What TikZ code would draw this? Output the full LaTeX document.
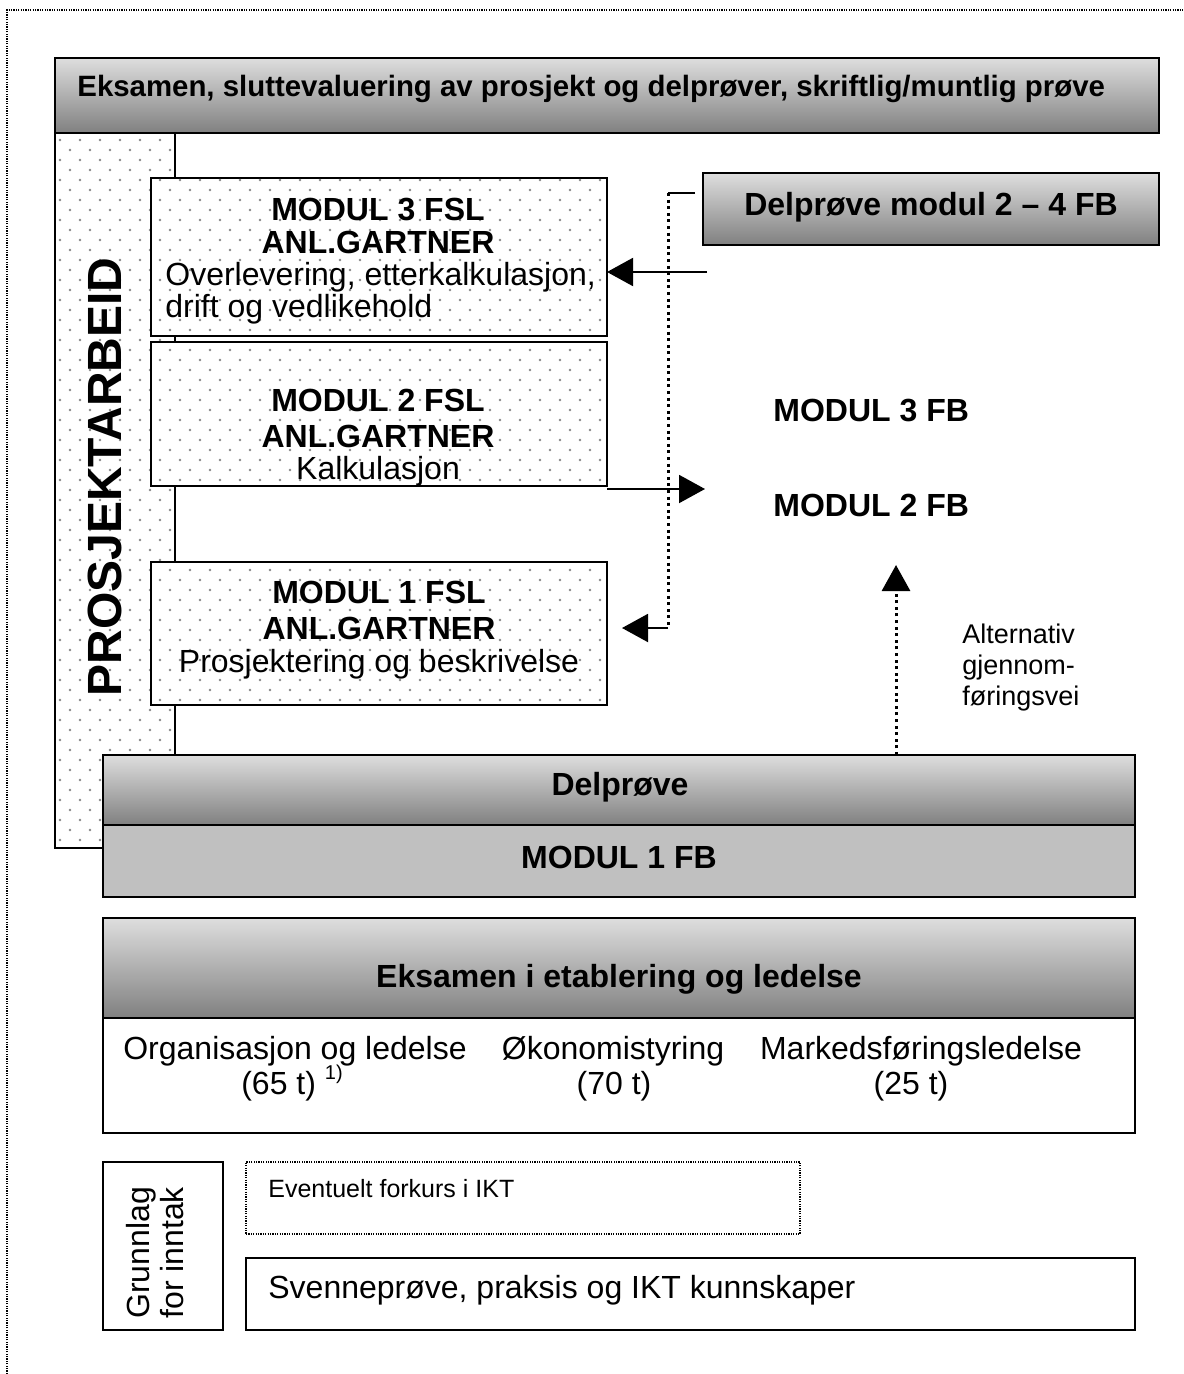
\documentclass[tikz,border=0pt]{standalone}
\usepackage{fontspec}
\setmainfont{Liberation Sans}
\usetikzlibrary{arrows.meta,fit}
\definecolor{gtop}{RGB}{222,222,222}
\definecolor{gbot}{RGB}{128,128,128}
\definecolor{mgray}{RGB}{192,192,192}
\definecolor{dotc}{RGB}{135,135,135}
\newcommand\mydotgrid[6]{%
  \begin{scope}
    \clip (#1,#2) rectangle (#3,#4);
    \foreach \xx in {#5}{\foreach \yy in {#6}{%
      \fill[dotc] (\xx,\yy) circle (0.7pt);
      \fill[dotc] (\xx+10,\yy+10) circle (0.7pt);}}
  \end{scope}}
\begin{document}
\begin{tikzpicture}[x=0.5pt,y=-0.5pt,
  box/.style={draw, line width=1pt, inner sep=0pt, outer sep=0pt},
  grad/.style={box, top color=gtop, bottom color=gbot},
  tsixteen/.style={font=\fontsize{16}{19}\selectfont, inner sep=0pt},
  bsixteen/.style={font=\fontsize{16}{19}\selectfont\bfseries, inner sep=0pt},
  btitle/.style={font=\fontsize{14.7}{17}\selectfont\bfseries, inner sep=0pt},
  tsmall/.style={font=\fontsize{13.5}{16}\selectfont, inner sep=0pt},
  tsmaller/.style={font=\fontsize{12.5}{15}\selectfont, inner sep=0pt},
  arr/.style={line width=1pt, -{Triangle[length=13pt,width=14pt]}},
  dotline/.style={line width=1.5pt, dash pattern=on 1.5pt off 1.8pt},
  fine/.style={line width=0.9pt, dash pattern=on 0.6pt off 0.6pt}]
\useasboundingbox (0,0) rectangle (1183,1374);
\fill[white] (0,0) rectangle (1183,1374);
% outer frame
\draw[fine] (7,1374) -- (7,10) -- (1183,10);

% project column
\node[box, fill=white, fit={(55,133) (175,848)}] (pcol) {};
\mydotgrid{56}{134}{174}{847}{40,60,...,180}{120,140,...,860}
\node[rotate=90, font=\fontsize{24}{28}\selectfont\bfseries, inner sep=0pt] (ptxt) at (105,477) {PROSJEKTARBEID};

% title
\node[grad, fit={(55,58) (1159,133)}] (title) {};
\node[btitle, anchor=base west] (titletxt) at (77,97) {Eksamen, sluttevaluering av prosjekt og delprøver, skriftlig/muntlig prøve};

% modules
\node[box, fill=white, fit={(151,178) (607,336)}] (m3) {};
\mydotgrid{152}{179}{606}{335}{140,160,...,620}{160,180,...,340}
\node[box, fill=white, fit={(151,342) (607,486)}] (m2) {};
\mydotgrid{152}{343}{606}{485}{140,160,...,620}{340,360,...,500}
\node[box, fill=white, fit={(151,562) (607,705)}] (m1) {};
\mydotgrid{152}{563}{606}{704}{140,160,...,620}{560,580,...,720}

\node[bsixteen, anchor=base] (m3a) at (378,221) {MODUL 3 FSL};
\node[bsixteen, anchor=base] (m3b) at (378,254) {ANL.GARTNER};
\node[tsixteen, anchor=base west] (m3c) at (165,286) {Overlevering, etterkalkulasjon,};
\node[tsixteen, anchor=base west] (m3d) at (165,318) {drift og vedlikehold};

\node[bsixteen, anchor=base] (m2a) at (378,411) {MODUL 2 FSL};
\node[bsixteen, anchor=base] (m2b) at (378,447) {ANL.GARTNER};
\node[tsixteen, anchor=base] (m2c) at (378,479) {Kalkulasjon};

\node[bsixteen, anchor=base] (m1a) at (379,603) {MODUL 1 FSL};
\node[bsixteen, anchor=base] (m1b) at (379,639) {ANL.GARTNER};
\node[tsixteen, anchor=base] (m1c) at (379,672) {Prosjektering og beskrivelse};

% delprove modul 2-4
\node[grad, fit={(703,173) (1159,245)}] (dp) {};
\node[bsixteen, anchor=base] (dptxt) at (931,216) {Delprøve modul 2 – 4 FB};

\node[bsixteen, anchor=base west] (fb3) at (773,421) {MODUL 3 FB};
\node[bsixteen, anchor=base west] (fb2) at (773,516) {MODUL 2 FB};

\node[tsmall, anchor=base west] (alt1) at (962,643) {Alternativ};
\node[tsmall, anchor=base west] (alt2) at (962,674) {gjennom-};
\node[tsmall, anchor=base west] (alt3) at (962,705) {føringsvei};

% bottom module 1 block
\node[grad, fit={(103,755) (1135,825)}] (dlp) {};
\node[bsixteen, anchor=base] (dlptxt) at (620,795) {Delprøve};
\node[box, fill=mgray, fit={(103,825) (1135,897)}] (m1fb) {};
\node[bsixteen, anchor=base] (m1fbtxt) at (619,868) {MODUL 1 FB};

% connectors
\coordinate (dtick) at (695,193);
\coordinate (dtop) at (668,193);
\coordinate (dbot) at (668,628);
\coordinate (m1tip) at (622,628);
\draw[line width=1pt] (dtick) -- (dtop);
\draw[dotline] (dtop) -- (dbot);
\draw[arr] (dbot) -- (m1tip);

\coordinate (a3) at (707,272);
\draw[arr] (a3) -- (m3.east |- a3);

\coordinate (a2) at (705,489);
\draw[arr] (m2.east |- a2) -- (a2);

\coordinate (alttip) at (896,565);
\draw[dotline, -{Triangle[length=13pt,width=14pt]}] (dlp.north -| alttip) -- (alttip);

% etablering og ledelse
\node[grad, fit={(103,918) (1135,1018)}] (eh) {};
\node[bsixteen, anchor=base] (ehtxt) at (619,987) {Eksamen i etablering og ledelse};
\node[box, fill=white, fit={(103,1018) (1135,1133)}] (eb) {};
\node[tsixteen, anchor=base] (c1a) at (295,1059) {Organisasjon og ledelse};
\node[tsixteen, anchor=base] (c1b) at (292,1094) {(65 t) \raisebox{0.45em}{\fontsize{10}{12}\selectfont 1)}};
\node[tsixteen, anchor=base] (c2a) at (613,1059) {Økonomistyring};
\node[tsixteen, anchor=base] (c2b) at (614,1094) {(70 t)};
\node[tsixteen, anchor=base] (c3a) at (921,1059) {Markedsføringsledelse};
\node[tsixteen, anchor=base] (c3b) at (911,1094) {(25 t)};

% grunnlag for inntak
\node[box, fit={(103,1162) (223,1330)}] (gi) {};
\node[rotate=90, anchor=west, align=left, font=\fontsize{16}{17}\selectfont, inner sep=0pt] (gitxt) at (155,1319) {Grunnlag\\for inntak};
\node[fine, draw, inner sep=0pt, fit={(246,1162) (800,1234)}] (ef) {};
\node[tsmaller, anchor=base west] (eftxt) at (268,1197) {Eventuelt forkurs i IKT};
\node[box, fit={(246,1258) (1135,1330)}] (sv) {};
\node[tsixteen, anchor=base west] (svtxt) at (268,1298) {Svenneprøve, praksis og IKT kunnskaper};
\end{tikzpicture}
\end{document}
